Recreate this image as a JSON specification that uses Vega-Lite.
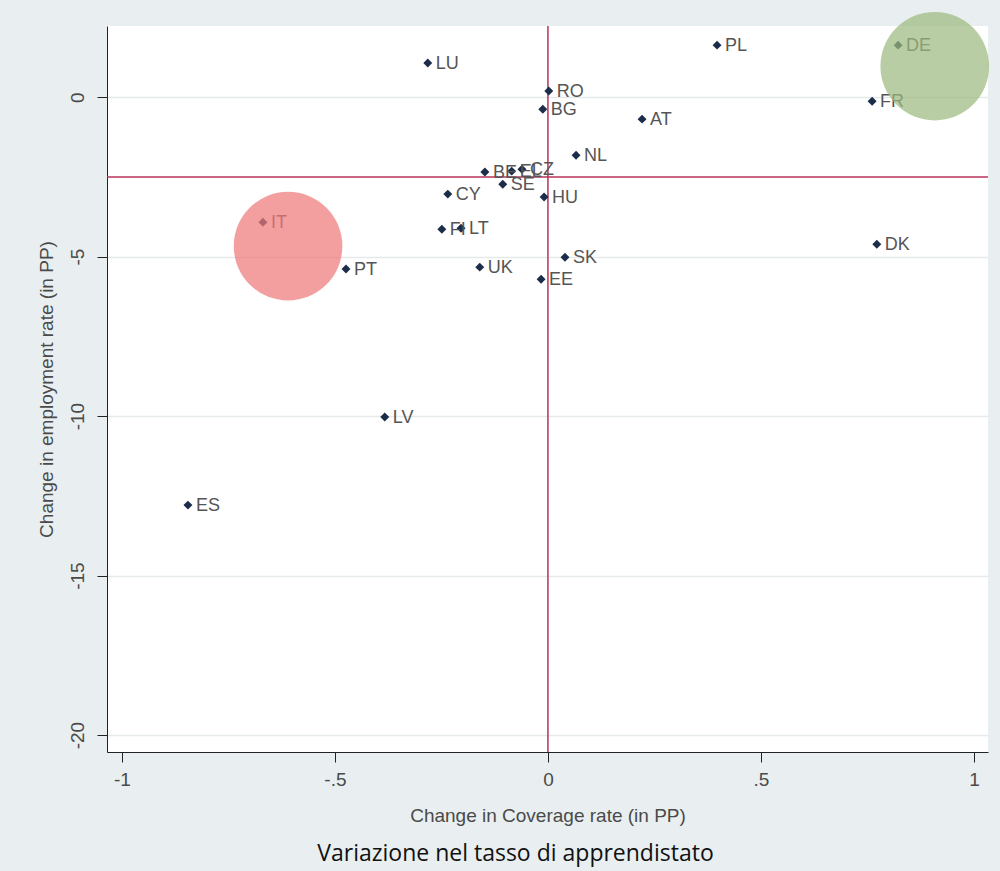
{
  "$schema": "https://vega.github.io/schema/vega-lite/v6.json",
  "width": 881,
  "height": 726,
  "autosize": "none",
  "padding": {"left": 107, "top": 26, "right": 12, "bottom": 119},
  "background": "#e9eff0",
  "datasets": {
    "countries": [
      {"code": "PL", "coverage": 0.397, "employment": 1.63},
      {"code": "DE", "coverage": 0.822, "employment": 1.63},
      {"code": "LU", "coverage": -0.282, "employment": 1.07},
      {"code": "RO", "coverage": 0.002, "employment": 0.19},
      {"code": "BG", "coverage": -0.012, "employment": -0.38},
      {"code": "FR", "coverage": 0.761, "employment": -0.13},
      {"code": "AT", "coverage": 0.221, "employment": -0.69},
      {"code": "NL", "coverage": 0.066, "employment": -1.82},
      {"code": "BE", "coverage": -0.148, "employment": -2.35},
      {"code": "EL", "coverage": -0.085, "employment": -2.32},
      {"code": "CZ", "coverage": -0.061, "employment": -2.26},
      {"code": "SE", "coverage": -0.106, "employment": -2.73},
      {"code": "HU", "coverage": -0.009, "employment": -3.13},
      {"code": "CY", "coverage": -0.235, "employment": -3.04},
      {"code": "FI", "coverage": -0.249, "employment": -4.14},
      {"code": "LT", "coverage": -0.204, "employment": -4.11},
      {"code": "IT", "coverage": -0.669, "employment": -3.92},
      {"code": "PT", "coverage": -0.474, "employment": -5.39},
      {"code": "UK", "coverage": -0.16, "employment": -5.33},
      {"code": "EE", "coverage": -0.016, "employment": -5.71},
      {"code": "SK", "coverage": 0.04, "employment": -5.02},
      {"code": "DK", "coverage": 0.772, "employment": -4.61},
      {"code": "LV", "coverage": -0.383, "employment": -10.03},
      {"code": "ES", "coverage": -0.845, "employment": -12.79}
    ],
    "highlights": [
      {"group": "bad", "coverage": -0.61, "employment": -4.67},
      {"group": "good", "coverage": 0.908, "employment": 0.97}
    ]
  },
  "config": {
    "view": {"fill": "white", "stroke": null},
    "font": "Liberation Sans",
    "axis": {
      "domainColor": "#222222",
      "tickColor": "#222222",
      "tickSize": 10,
      "labelColor": "#4a4a4a",
      "titleColor": "#4a4a4a",
      "labelFontSize": 19,
      "titleFontSize": 19,
      "titleFontWeight": "normal",
      "labelFont": "Liberation Sans",
      "titleFont": "Liberation Sans"
    },
    "title": {"font": "Open Sans", "fontSize": 23, "fontWeight": "normal", "color": "#111111"}
  },
  "title": {"text": "Variazione nel tasso di apprendistato", "orient": "bottom", "anchor": "middle", "offset": 18, "dx": -32},
  "layer": [
    {
      "data": {"values": [{"v": 0}]},
      "mark": {"type": "rule", "color": "#b8325a", "strokeWidth": 1.5},
      "encoding": {"x": {"field": "v", "type": "quantitative"}}
    },
    {
      "data": {"values": [{"v": -2.5}]},
      "mark": {"type": "rule", "color": "#b8325a", "strokeWidth": 1.5},
      "encoding": {"y": {"field": "v", "type": "quantitative"}}
    },
    {
      "data": {"name": "countries"},
      "mark": {"type": "point", "shape": "diamond", "filled": true, "size": 80, "color": "#1c2d4a", "opacity": 1},
      "encoding": {
        "x": {
          "field": "coverage", "type": "quantitative",
          "scale": {"domain": [-1.035, 1.033], "nice": false, "zero": false},
          "axis": {
            "title": "Change in Coverage rate (in PP)",
            "values": [-1, -0.5, 0, 0.5, 1],
            "labelExpr": "datum.value == 0.5 ? '.5' : datum.value == -0.5 ? '-.5' : datum.value == -1 ? '-1' : datum.value == 1 ? '1' : '0'",
            "grid": false,
            "labelPadding": 8,
            "titlePadding": 17
          }
        },
        "y": {
          "field": "employment", "type": "quantitative",
          "scale": {"domain": [-20.53, 2.23], "nice": false, "zero": false},
          "axis": {
            "title": "Change in employment rate (in PP)",
            "values": [0, -5, -10, -15, -20],
            "labelExpr": "'' + datum.value",
            "labelAngle": 270,
            "labelAlign": "center",
            "labelBaseline": "bottom",
            "labelPadding": 10,
            "titlePadding": 12,
            "grid": true,
            "gridColor": "#e6e9ea",
            "gridWidth": 1.5
          }
        }
      }
    },
    {
      "data": {"name": "countries"},
      "mark": {"type": "text", "align": "left", "baseline": "middle", "dx": 8, "dy": 1, "fontSize": 18, "color": "#555555", "font": "Liberation Sans"},
      "encoding": {
        "x": {"field": "coverage", "type": "quantitative"},
        "y": {"field": "employment", "type": "quantitative"},
        "text": {"field": "code"}
      }
    },
    {
      "data": {"name": "highlights"},
      "mark": {"type": "point", "shape": "circle", "filled": true, "size": 11800, "opacity": 0.72, "strokeWidth": 0},
      "encoding": {
        "x": {"field": "coverage", "type": "quantitative"},
        "y": {"field": "employment", "type": "quantitative"},
        "color": {
          "field": "group", "type": "nominal",
          "scale": {"domain": ["bad", "good"], "range": ["#f07a7a", "#9dba80"]},
          "legend": null
        }
      }
    }
  ]
}
